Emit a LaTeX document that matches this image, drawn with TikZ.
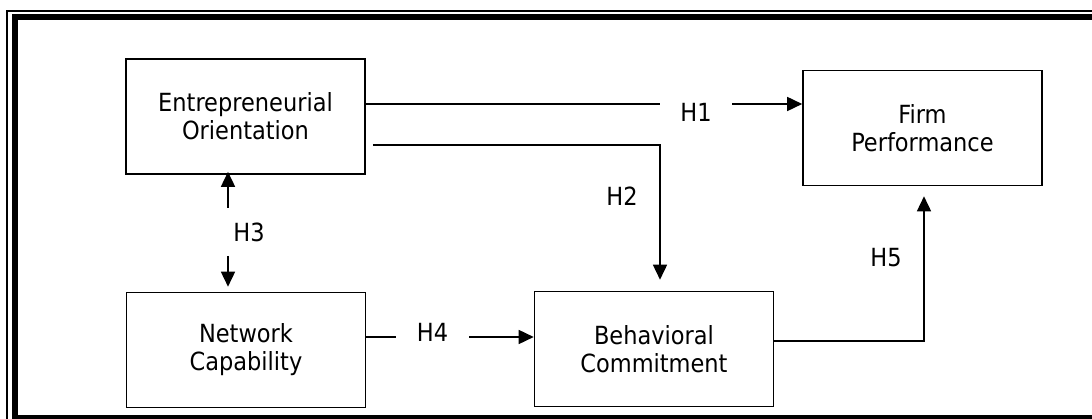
\documentclass[tikz,border=0pt]{standalone}
\usepackage{fontspec}
\setmainfont{DejaVu Sans Condensed}
\usetikzlibrary{arrows.meta}
\tikzset{
  box/.style={draw, line width=1.6pt, minimum width=239pt, minimum height=115pt, align=center, inner sep=0pt},
  hyp/.style={inner sep=0pt},
  link/.style={line width=1.6pt},
  arrow/.style={link, -{Triangle[length=15pt,width=14pt]}}
}
\begin{document}
\begin{tikzpicture}[x=1pt,y=-1pt,font=\fontsize{25}{28}\selectfont]
  \clip (0,0) rectangle (1092,419);
  \fill[white] (0,0) rectangle (1092,419);
  \draw[line width=2pt] (7,11) rectangle (1110,440);
  \draw[line width=6pt] (14.5,17) rectangle (1100,418);

  \node[box] (eo) at (245.5,116.5) {Entrepreneurial\\Orientation};
  \node[box] (fp) at (922.5,128) {Firm\\Performance};
  \node[box] (nc) at (246,350) {Network\\Capability};
  \node[box] (bc) at (654,349) {Behavioral\\Commitment};

  \node[hyp, minimum width=72pt] (h1) at (696,112) {H1};
  \node[hyp] (h2) at (622,196) {H2};
  \node[hyp] (h3) at (249,232) {H3};
  \node[hyp, minimum width=73pt] (h4) at (432.5,332) {H4};
  \node[hyp] (h5) at (886,258) {H5};
  \coordinate (h3top) at (228,208);
  \coordinate (h3bot) at (228,256);

  \draw[link] ([yshift=12.5pt]eo.east) -- ([yshift=8pt]h1.west);
  \draw[arrow] ([yshift=8pt]h1.east) -- ([yshift=24pt]fp.west);
  \draw[arrow] ([xshift=7pt,yshift=-28.5pt]eo.east) -| ([xshift=6pt,yshift=11pt]bc.north);
  \draw[arrow] (h3top) -- ([xshift=-17.5pt,yshift=3pt]eo.south);
  \draw[arrow] (h3bot) -- ([xshift=-18pt,yshift=5pt]nc.north);
  \draw[link] ([yshift=13pt]nc.east) -- ([yshift=-5pt]h4.west);
  \draw[arrow] ([yshift=-5pt]h4.east) -- ([yshift=12pt]bc.west);
  \draw[arrow] ([yshift=8pt]bc.east) -| ([xshift=1.5pt,yshift=-10pt]fp.south);
\end{tikzpicture}
\end{document}
